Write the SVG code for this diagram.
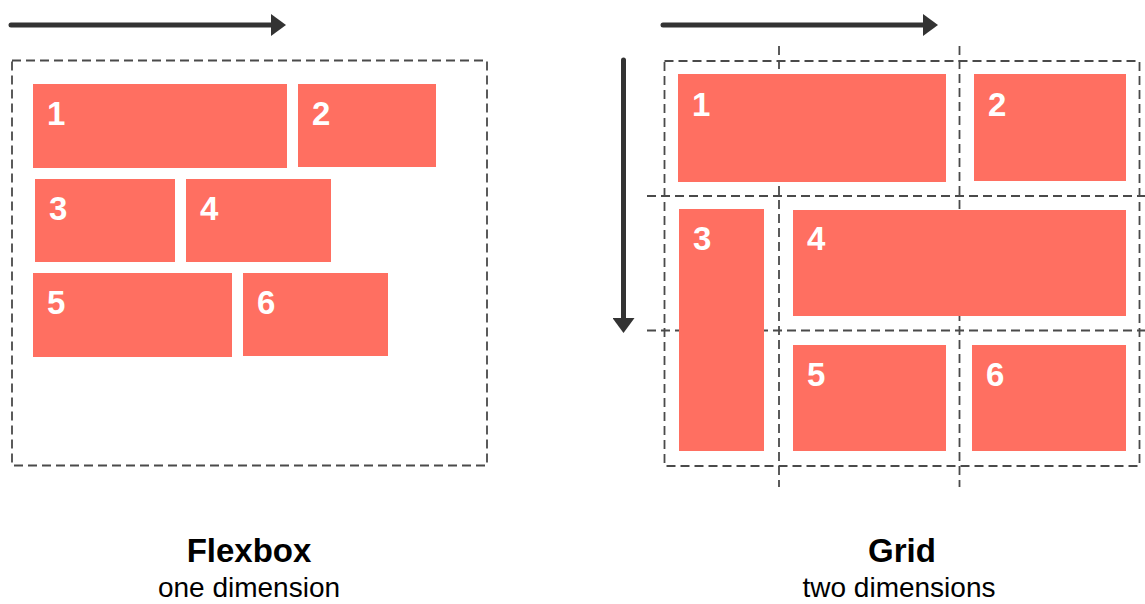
<svg xmlns="http://www.w3.org/2000/svg" width="1145" height="604" viewBox="0 0 1145 604">
<style>
.box{fill:#ff6f61}
.num{fill:#fff;font-family:"Liberation Sans",Arial,sans-serif;font-weight:bold;font-size:33px}
.dash{fill:none;stroke:#4a4a4a;stroke-width:1.8;stroke-dasharray:9 5}
.arrow{fill:none;stroke:#333;stroke-width:5;stroke-linecap:round;marker-end:url(#ah)}
.title{font-family:"Liberation Sans",Arial,sans-serif;font-weight:bold;font-size:33px;fill:#000;text-anchor:middle}
.sub{font-family:"Liberation Sans",Arial,sans-serif;font-size:28px;fill:#000;text-anchor:middle}
</style>
<defs>
<marker id="ah" markerUnits="userSpaceOnUse" viewBox="0 0 15 22" markerWidth="15" markerHeight="22" refX="1" refY="11" orient="auto">
<path d="M0,0 L15,11 L0,22 z" fill="#333"/>
</marker>
</defs>
<rect width="1145" height="604" fill="#fff"/>

<g id="connectors">
<line class="arrow" x1="11" y1="25" x2="272" y2="25"/>
<line class="arrow" x1="663" y1="25" x2="924" y2="25"/>
<line class="arrow" x1="623.5" y1="60" x2="623.5" y2="319"/>
</g>

<g id="flex-container">
<rect class="dash" x="12" y="60.5" width="475" height="405"/>
</g>
<g id="flex-1"><rect class="box" x="33" y="84" width="254" height="84"/><text class="num" x="47" y="125">1</text></g>
<g id="flex-2"><rect class="box" x="298" y="84" width="138" height="83"/><text class="num" x="312" y="125">2</text></g>
<g id="flex-3"><rect class="box" x="35" y="179" width="140" height="83"/><text class="num" x="49" y="220">3</text></g>
<g id="flex-4"><rect class="box" x="186" y="179" width="145" height="83"/><text class="num" x="200" y="220">4</text></g>
<g id="flex-5"><rect class="box" x="33" y="273" width="199" height="84"/><text class="num" x="47" y="314">5</text></g>
<g id="flex-6"><rect class="box" x="243" y="273" width="145" height="83"/><text class="num" x="257" y="314">6</text></g>

<g id="grid-container">
<rect class="dash" x="664.5" y="61" width="475" height="405"/>
<line class="dash" x1="779" y1="46" x2="779" y2="487"/>
<line class="dash" x1="959.5" y1="46" x2="959.5" y2="487"/>
<line class="dash" x1="647" y1="196" x2="1145" y2="196"/>
<line class="dash" x1="647" y1="330.5" x2="1145" y2="330.5"/>
</g>
<g id="grid-1"><rect class="box" x="678" y="74" width="268" height="108"/><text class="num" x="692" y="116">1</text></g>
<g id="grid-2"><rect class="box" x="974" y="74" width="152" height="107"/><text class="num" x="988" y="116">2</text></g>
<g id="grid-3"><rect class="box" x="679" y="209" width="85" height="242"/><text class="num" x="693" y="250">3</text></g>
<g id="grid-4"><rect class="box" x="793" y="210" width="333" height="106"/><text class="num" x="807" y="250">4</text></g>
<g id="grid-5"><rect class="box" x="793" y="345" width="153" height="106"/><text class="num" x="807" y="386">5</text></g>
<g id="grid-6"><rect class="box" x="972" y="345" width="154" height="106"/><text class="num" x="986" y="386">6</text></g>

<g id="label-flexbox">
<text class="title" x="249" y="562">Flexbox</text>
<text class="sub" x="249" y="597">one dimension</text>
</g>
<g id="label-grid">
<text class="title" x="902" y="562">Grid</text>
<text class="sub" x="899" y="597">two dimensions</text>
</g>
</svg>
